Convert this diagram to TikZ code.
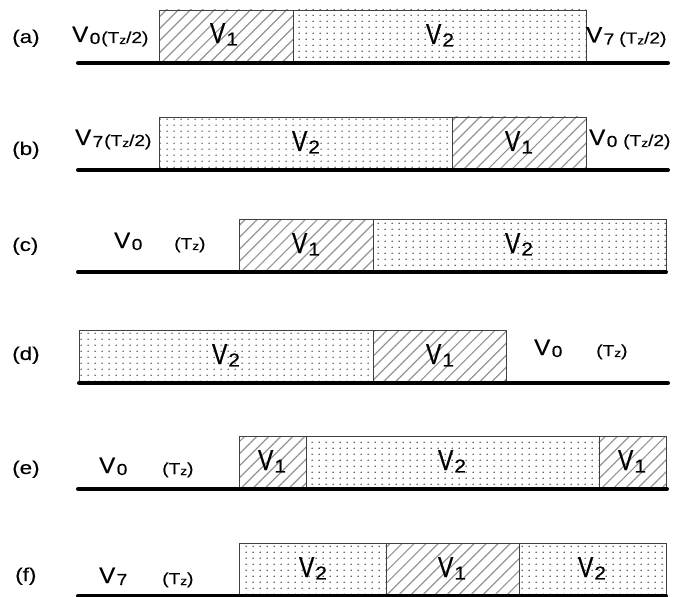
\documentclass[tikz,border=0pt]{standalone}
\usepackage{fontspec}
\setmainfont{Liberation Sans}
\newfontfamily\heavy{Liberation Sans}[FakeBold=0.5]
\newfontfamily\medium{Liberation Sans}[FakeBold=0.2]
\usetikzlibrary{patterns.meta}

\newcommand{\fs}[1]{\fontsize{#1}{#1}\selectfont}
% vector name beside the rail, e.g. V_0
\newcommand{\vout}[1]{{\heavy\scalebox{1.05}[0.97]{\fs{23}V}\kern1.5pt\raisebox{-2pt}{\scalebox{1.2}[1]{\fs{16}#1}}}}
% vector name inside a box
\newcommand{\vin}[1]{{\heavy\scalebox{1.1}[1.38]{\fs{21}V}\kern1pt\raisebox{-2.5pt}{\scalebox{1.4}[1.25]{\fs{15}#1}}}}
% dwell time, e.g. (T_z/2)
\newcommand{\tz}[1]{{\medium\scalebox{1.2}[1]{\fs{16}(T\raisebox{-1pt}{\fs{11.5}z}#1)}}}
% row tag, e.g. (a)
\newcommand{\rowtag}[1]{{\medium\scalebox{1.22}[1]{\fs{18.5}(#1)}}}

\tikzdeclarepattern{
  name=sparsedots, type=uncolored,
  bottom left={(0pt,0pt)}, top right={(6.6pt,5.8pt)},
  tile size={(6.6pt,5.8pt)},
  code={\fill (3.3pt,2.9pt) circle (0.75pt);}
}

\begin{document}
\begin{tikzpicture}[x=1bp,y=-1bp,
  frame/.style={draw=black!75, line width=0.9bp},
  hatchbox/.style={frame, pattern={Lines[angle=45,distance=8.5bp,line width=1.2bp]}, pattern color=black!42},
  dotbox/.style={frame, pattern=sparsedots, pattern color=black!80},
  rail/.style={line width=4bp, line cap=round},
  txt/.style={inner sep=0pt, anchor=base west},
  inlab/.style={inner sep=0pt, anchor=base},
]
\useasboundingbox (0,0) rectangle (691,597);

% ---------- (a) ----------
\draw[hatchbox] (159,10) rectangle (293,63);
\draw[dotbox]   (293,10) rectangle (586,63);
\draw[rail] (78,63) -- (668,63);
\node[txt] (a-tag) at (12,43) {\rowtag{a}};
\node[txt] (a-v0) at (72,42) {\vout{0}};
\node[txt] (a-t0) at (101,43) {\tz{/2}};
\node[inlab] (a-v1) at (224,43) {\vin{1}};
\node[inlab] (a-v2) at (440,44) {\vin{2}};
\node[txt] (a-v7) at (586,42.5) {\vout{7}};
\node[txt] (a-t7) at (619,43.5) {\tz{/2}};

% ---------- (b) ----------
\draw[dotbox]   (159,117) rectangle (452,170);
\draw[hatchbox] (452,117) rectangle (586,170);
\draw[rail] (78,170) -- (668,170);
\node[txt] (b-tag) at (12,155) {\rowtag{b}};
\node[txt] (b-v7) at (75,145) {\vout{7}};
\node[txt] (b-t7) at (104,146) {\tz{/2}};
\node[inlab] (b-v2) at (306,151) {\vin{2}};
\node[inlab] (b-v1) at (519,151) {\vin{1}};
\node[txt] (b-v0) at (589,145) {\vout{0}};
\node[txt] (b-t0) at (623,146) {\tz{/2}};

% ---------- (c) ----------
\draw[hatchbox] (239.5,219) rectangle (373,272);
\draw[dotbox]   (373,219) rectangle (666,272);
\draw[rail] (78,272) -- (666,272);
\node[txt] (c-tag) at (12,251) {\rowtag{c}};
\node[txt] (c-v0) at (114,248) {\vout{0}};
\node[txt] (c-t0) at (174,249) {\tz{}};
\node[inlab] (c-v1) at (306,253) {\vin{1}};
\node[inlab] (c-v2) at (519,253) {\vin{2}};

% ---------- (d) ----------
\draw[dotbox]   (79,330) rectangle (373,383);
\draw[hatchbox] (373,330) rectangle (506,383);
\draw[rail] (79,383) -- (668,383);
\node[txt] (d-tag) at (12,360) {\rowtag{d}};
\node[inlab] (d-v2) at (226,364) {\vin{2}};
\node[inlab] (d-v1) at (440,364) {\vin{1}};
\node[txt] (d-v0) at (534,355) {\vout{0}};
\node[txt] (d-t0) at (596,356) {\tz{}};

% ---------- (e) ----------
\draw[hatchbox] (239.5,436) rectangle (306,489);
\draw[dotbox]   (306,436) rectangle (599,489);
\draw[hatchbox] (599,436) rectangle (666,489);
\draw[rail] (78,489) -- (667,489);
\node[txt] (e-tag) at (12,474) {\rowtag{e}};
\node[txt] (e-v0) at (99,473) {\vout{0}};
\node[txt] (e-t0) at (162,474) {\tz{}};
\node[inlab] (e-v1a) at (272,470) {\vin{1}};
\node[inlab] (e-v2) at (452,470) {\vin{2}};
\node[inlab] (e-v1b) at (632,470) {\vin{1}};

% ---------- (f) ----------
\draw[dotbox]   (239.5,543) rectangle (386,596);
\draw[hatchbox] (386,543) rectangle (519,596);
\draw[dotbox]   (519,543) rectangle (666,596);
\draw[rail] (78,596) -- (666,596);
\node[txt] (f-tag) at (15,581) {\rowtag{f}};
\node[txt] (f-v7) at (99,583) {\vout{7}};
\node[txt] (f-t7) at (162,584) {\tz{}};
\node[inlab] (f-v2a) at (313,577) {\vin{2}};
\node[inlab] (f-v1) at (452,577) {\vin{1}};
\node[inlab] (f-v2b) at (592,577) {\vin{2}};
\end{tikzpicture}
\end{document}
